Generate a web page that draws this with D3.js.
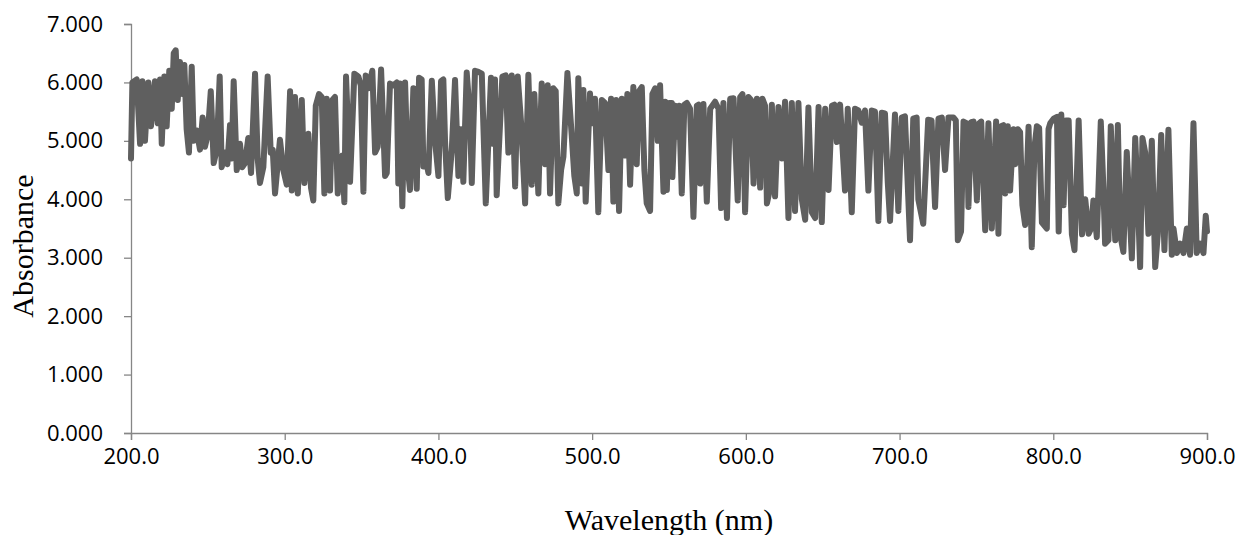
<!DOCTYPE html>
<html>
<head>
<meta charset="utf-8">
<script src="https://cdn.jsdelivr.net/npm/d3@7"></script>
<style>
  body { margin: 0; background: #fff; }
  .container { width: 1241px; height: 535px; }
</style>
</head>
<body>
<div class="container"></div>
<script>
// wavelength (nm) and absorbance
const wavelength = [
  200.0, 200.9, 203.7, 205.9, 207.4, 209.1, 211.3, 213.0, 215.6, 217.4, 218.9, 220.0, 221.7, 223.2, 224.9, 226.5,
  227.8, 229.1, 230.4, 231.9, 233.4, 234.7, 236.2, 237.7, 239.5, 240.8, 242.7, 244.9, 246.6, 248.1, 249.9, 251.9,
  253.8, 255.8, 257.7, 259.0, 261.2, 262.7, 264.4, 265.5, 266.8, 268.8, 270.9, 272.4, 274.2, 276.3, 278.1, 280.7,
  282.4, 283.9, 286.1, 288.9, 290.9, 292.2, 293.7, 296.9, 299.1, 301.3, 303.5, 304.6, 306.7, 308.5, 311.1, 312.8,
  315.4, 317.1, 318.6, 320.2, 322.3, 324.1, 325.8, 327.3, 329.5, 331.0, 332.7, 334.5, 336.0, 337.5, 338.8, 339.9,
  342.5, 345.3, 346.9, 347.9, 349.5, 351.2, 352.7, 354.4, 357.0, 358.8, 360.5, 362.7, 365.3, 366.4, 368.5, 370.7,
  372.9, 373.9, 375.0, 376.5, 378.3, 380.0, 381.5, 383.7, 385.9, 387.4, 389.1, 390.2, 392.4, 393.5, 395.7, 397.8,
  400.0, 401.7, 403.2, 404.3, 406.1, 408.7, 410.8, 413.0, 414.7, 416.2, 418.4, 420.6, 421.7, 423.8, 426.0, 428.2,
  430.8, 432.5, 434.2, 435.7, 436.8, 437.9, 440.1, 441.6, 443.8, 445.5, 447.7, 449.9, 451.6, 453.8, 456.4, 458.5,
  460.7, 462.4, 465.0, 467.2, 469.4, 471.1, 472.6, 474.8, 476.3, 478.0, 479.8, 481.3, 483.9, 486.7, 488.4, 490.0,
  491.0, 493.2, 494.3, 495.8, 498.6, 500.1, 501.9, 504.0, 506.3, 508.4, 510.6, 512.3, 513.8, 515.6, 517.5, 519.3,
  521.4, 522.9, 524.7, 526.8, 529.0, 530.5, 532.3, 534.0, 535.5, 537.7, 539.2, 541.0, 542.7, 544.2, 546.4,
  547.5, 548.6, 550.1, 551.8, 552.2, 554.0, 555.1, 556.6, 558.3, 560.0, 561.6, 563.7, 565.9, 568.1, 569.2, 570.3,
  572.4, 574.6, 576.8, 580.0, 582.2, 583.9, 585.4, 587.7, 589.8, 592.0, 594.7, 596.3, 597.8, 599.5, 601.7, 603.4,
  605.0, 607.2, 609.3, 610.8, 612.5, 613.7, 615.1, 616.9, 619.0, 621.2, 623.4, 625.5, 627.7, 629.9, 632.0, 634.2,
  636.4, 638.6, 640.7, 642.9, 645.1, 647.3, 649.4, 651.6, 653.8, 656.0, 657.6, 659.2, 661.3, 664.5, 666.3, 668.9,
  671.0, 673.2, 675.4, 677.5, 679.7, 681.9, 684.0, 686.2, 688.4, 690.5, 692.3, 693.8, 697.0, 699.2, 701.4, 703.5,
  706.8, 708.9, 711.1, 712.2, 715.4, 718.6, 720.8, 721.9,
  723.1, 725.3, 727.5, 729.6, 731.8, 735.0, 736.6, 737.9, 740.0, 741.6, 743.8, 744.8, 746.6, 748.1, 750.3, 751.8,
  753.1, 755.7, 757.8, 760.0, 762.8, 764.3, 766.1, 767.6, 768.7, 770.4, 771.9, 774.1, 775.2, 776.9, 778.4, 779.9,
  781.7, 783.9, 786.0, 787.8, 789.3, 790.8, 792.6, 795.8, 796.9, 798.0, 800.2, 802.4, 803.5, 805.2, 806.7, 808.2,
  810.0, 812.1, 813.8, 816.5, 818.7, 820.8, 823.0, 824.6, 826.1, 828.3, 830.9, 832.6, 833.7, 835.9, 837.4, 840.3,
  842.0, 843.5, 845.6, 847.8, 851.1, 853.3, 855.0, 856.5, 858.0, 859.8, 861.9, 864.1, 866.3, 868.0, 870.2, 872.3,
  874.9, 877.1, 878.2, 880.4, 882.5, 884.7, 886.9, 889.0, 891.2, 893.3, 895.5, 897.7, 899.2, 900.0
]
const absorbance = [
  4.70, 6.00, 6.05, 4.95, 6.02, 5.00, 6.00, 5.25, 6.02, 5.30, 6.05, 4.95, 6.10, 5.25, 6.20, 5.55,
  6.50, 6.55, 5.70, 6.35, 5.80, 6.30, 5.20, 4.80, 6.27, 5.00, 5.18, 4.85, 5.40, 4.90, 5.10, 5.85,
  4.62, 4.85, 6.10, 4.55, 4.80, 4.60, 5.27, 4.70, 6.02, 4.50, 4.95, 4.55, 4.62, 5.05, 4.45, 6.15,
  4.70, 4.28, 4.55, 6.10, 4.80, 4.85, 4.10, 5.02, 4.50, 4.25, 5.85, 4.15, 5.75, 4.10, 5.70, 4.28,
  5.12, 4.20, 3.98, 5.60, 5.80, 5.75, 4.10, 5.72, 4.15, 5.70, 5.75, 4.10, 4.55, 4.75, 3.95, 6.10,
  4.30, 6.15, 6.12, 6.10, 5.95, 4.13, 6.12, 5.90, 6.20, 4.80, 4.90, 6.22, 4.40, 4.45, 5.98, 5.95,
  6.00, 4.27, 5.98, 3.88, 6.00, 4.55, 4.16, 5.90, 4.18, 6.08, 6.05, 4.56, 4.60, 4.45, 6.03, 5.00,
  4.40, 6.02, 6.05, 5.00, 4.02, 4.85, 6.04, 4.40, 5.20, 4.30, 6.17, 5.40, 4.28, 6.20, 6.18, 6.15,
  3.93, 5.00, 6.08, 4.95, 6.05, 4.07, 5.30, 6.10, 6.12, 4.80, 6.12, 4.22, 6.10, 5.30, 3.93, 6.13,
  4.25, 5.80, 4.10, 5.98, 4.60, 5.95, 4.10, 5.90, 5.85, 3.93, 4.50, 4.73, 6.16, 5.10, 4.40, 4.10,
  6.07, 4.27, 5.87, 3.96, 5.81, 5.30, 5.72, 3.78, 5.70, 5.65, 4.50, 5.72, 3.96, 5.70, 3.80, 5.72,
  4.75, 5.80, 4.25, 5.92, 4.60, 5.85, 5.92, 4.50, 3.93, 3.80, 5.80, 5.90, 5.00, 5.95, 4.13,
  5.67, 4.16, 5.65, 5.65, 4.38, 5.60, 5.07, 5.60, 4.10, 5.62, 5.65, 5.55, 3.70, 5.60, 5.62, 4.27,
  5.63, 3.96, 5.55, 5.67, 5.55, 3.85, 5.65, 3.68, 5.72, 5.73, 3.98, 5.75, 5.80, 3.78, 5.75, 5.70,
  4.27, 5.72, 4.20, 5.72, 5.60, 3.93, 4.10, 5.62, 4.05, 5.58, 4.70, 5.67, 3.68, 5.65, 3.80, 5.65,
  4.00, 3.65, 5.57, 3.78, 3.68, 5.58, 3.61, 5.55, 4.16, 5.60, 5.62, 4.98, 5.62, 4.15, 5.55, 3.78,
  5.55, 5.52, 5.31, 5.52, 4.15, 5.52, 5.50, 3.63, 5.48, 5.47, 4.30, 3.63, 5.45, 3.80, 5.40, 5.42,
  3.30, 5.38, 5.40, 4.00, 3.58, 5.36, 5.35, 4.60,
  3.87, 5.38, 5.40, 4.50, 5.40, 5.40, 5.35, 3.30, 3.45, 5.33, 5.30, 3.87, 5.32, 5.33, 3.98, 5.30,
  5.33, 3.47, 5.30, 3.50, 5.33, 3.41, 5.25, 5.27, 4.10, 5.25, 4.15, 5.20, 4.60, 5.20, 5.15, 3.90,
  3.56, 5.24, 3.18, 4.90, 5.25, 5.22, 3.60, 3.50, 5.20, 5.30, 5.38, 5.41, 3.45, 5.45, 3.90, 5.35,
  5.35, 3.40, 3.13, 5.35, 3.40, 4.00, 3.41, 3.50, 3.98, 3.35, 5.33, 4.20, 3.24, 3.30, 5.25, 3.30,
  5.27, 3.40, 3.10, 4.81, 2.99, 5.05, 4.00, 2.84, 5.05, 4.80, 3.41, 5.00, 2.84, 3.40, 5.10, 3.13,
  5.19, 3.05, 3.50, 3.08, 3.24, 3.08, 3.50, 3.05, 5.30, 3.08, 3.24, 3.08, 3.72, 3.45
]
const xTicks = [200, 300, 400, 500, 600, 700, 800, 900]
const yTicks = [0, 1, 2, 3, 4, 5, 6, 7]

const w = 1241
const h = 535
const margin = { top: 24, right: 34, bottom: 102, left: 131 }
const axisColor = '#868686'

const svg = d3.select('.container')
    .append('svg')
    .attr('width', w)
    .attr('height', h)

const xScale = d3.scaleLinear()
    .domain([200, 900])
    .range([margin.left, w - margin.right])

const yScale = d3.scaleLinear()
    .domain([0, 7])
    .range([h - margin.bottom, margin.top])

// Axes
const xAxis = d3.axisBottom(xScale)
    .tickValues(xTicks)
    .tickFormat(d3.format('.1f'))
    .tickSize(7)
    .tickPadding(8)
const yAxis = d3.axisLeft(yScale)
    .tickValues(yTicks)
    .tickFormat(d3.format('.3f'))
    .tickSize(7)
    .tickPadding(21)

const gx = svg.append('g')
    .attr('transform', 'translate(0, ' + (h - margin.bottom) + ')')
    .call(xAxis)
const gy = svg.append('g')
    .attr('transform', 'translate(' + margin.left + ', 0)')
    .call(yAxis)

;[gx, gy].forEach(g => {
    g.select('.domain').attr('stroke', axisColor).attr('stroke-width', 1.3)
    g.selectAll('.tick line').attr('stroke', axisColor).attr('stroke-width', 1.3)
    g.selectAll('.tick text')
        .attr('fill', '#000')
        .style('font-family', '"Open Sans", sans-serif')
        .style('font-size', '22px')
})

// Spectrum line
const points = wavelength.map((x, i) => [x, absorbance[i]])
const line = d3.line()
    .x(d => xScale(d[0]))
    .y(d => yScale(d[1]))

svg.append('path')
    .datum(points)
    .attr('d', line)
    .attr('fill', 'none')
    .attr('stroke', '#5f5f5f')
    .attr('stroke-width', 6)
    .attr('stroke-linejoin', 'round')
    .attr('stroke-linecap', 'round')

// Axis titles
svg.append('text')
    .text('Wavelength (nm)')
    .attr('x', (margin.left + w - margin.right) / 2)
    .attr('y', 530)
    .attr('text-anchor', 'middle')
    .style('font-family', '"Liberation Serif", "Times New Roman", serif')
    .style('font-size', '30px')

svg.append('text')
    .text('Absorbance')
    .attr('transform', 'translate(33, 246) rotate(-90)')
    .attr('text-anchor', 'middle')
    .style('font-family', '"Liberation Serif", "Times New Roman", serif')
    .style('font-size', '30px')
</script>
</body>
</html>
